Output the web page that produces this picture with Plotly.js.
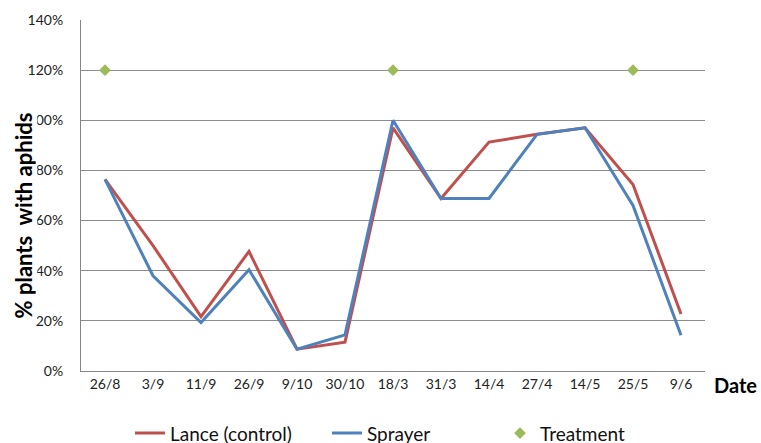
<!DOCTYPE html>
<html><head><meta charset="utf-8">
<script src="https://cdn.plot.ly/plotly-3.0.1.min.js"></script>
<style>html,body{margin:0;padding:0;background:#fff}#c{width:761px;height:443px}</style>
</head><body><div id="c"></div>
<script>
const dates = ["26/8","3/9","11/9","26/9","9/10","30/10","18/3","31/3","14/4","27/4","14/5","25/5","9/6"];
const lance = [0.764,0.50,0.217,0.477,0.087,0.115,0.97,0.688,0.913,0.944,0.97,0.744,0.227];
const sprayer = [0.764,0.38,0.193,0.404,0.087,0.144,1.00,0.688,0.688,0.944,0.97,0.66,0.143];
const treatDates = ["26/8","18/3","25/5"];
const treatVals = [1.2,1.2,1.2];
const yTicks = [0,0.2,0.4,0.6,0.8,1.0,1.2,1.4];
const yTickText = ["0%","20%","40%","60%","80%","100%","120%","140%"];

const font = "Lato, 'Open Sans', sans-serif";
const traces = [
  {x:dates,y:lance,type:"scatter",mode:"lines",name:"Lance (control)",legend:"legend",line:{color:"#C0504D",width:3}},
  {x:dates,y:sprayer,type:"scatter",mode:"lines",name:"Sprayer",legend:"legend2",line:{color:"#4F81BD",width:3}},
  {x:treatDates,y:treatVals,type:"scatter",mode:"markers",name:"Treatment",legend:"legend3",marker:{symbol:"diamond",color:"#9BBB59",size:9}}
];
function leg(px){
  return {orientation:"h",xref:"container",yref:"container",x:px/761,xanchor:"left",
    y:0.022,yanchor:"middle",font:{family:font,size:19,color:"#111"},bgcolor:"rgba(0,0,0,0)"};
}
const layout = {
  width:761,height:443,
  margin:{l:81,r:56,t:20,b:72,autoexpand:false},
  paper_bgcolor:"#fff",plot_bgcolor:"#fff",
  font:{family:font,color:"#222",size:13},
  showlegend:true,
  legend:leg(130),
  legend2:leg(327),
  legend3:leg(500),
  xaxis:{type:"category",categoryorder:"array",categoryarray:dates,
    range:[-0.5,12.5],showline:true,linecolor:"#868686",linewidth:1,
    showgrid:false,ticks:"",zeroline:false,fixedrange:true,
    tickfont:{family:font,size:14,color:"#222"}},
  yaxis:{range:[0,1.4],tickvals:yTicks,ticktext:yTickText,
    showline:true,linecolor:"#868686",linewidth:1,
    showgrid:true,gridcolor:"#8c8c8c",gridwidth:1,zeroline:false,ticks:"",
    ticklabelstandoff:14,
    tickfont:{family:font,size:14,color:"#222"}},
  annotations:[
    {text:"% plants  with aphids",xref:"paper",yref:"paper",x:-0.092,y:0.442,
     xanchor:"center",yanchor:"middle",textangle:-90,showarrow:false,
     height:24,bgcolor:"#fff",font:{family:font,size:22,color:"#000",weight:"bold"}},
    {text:"Date",xref:"paper",yref:"paper",x:1.012,y:-0.04,xanchor:"left",yanchor:"middle",
     showarrow:false,font:{family:font,size:20,color:"#000",weight:"bold"}}
  ]
};
Plotly.newPlot("c",traces,layout,{displayModeBar:false,staticPlot:true});
</script></body></html>
